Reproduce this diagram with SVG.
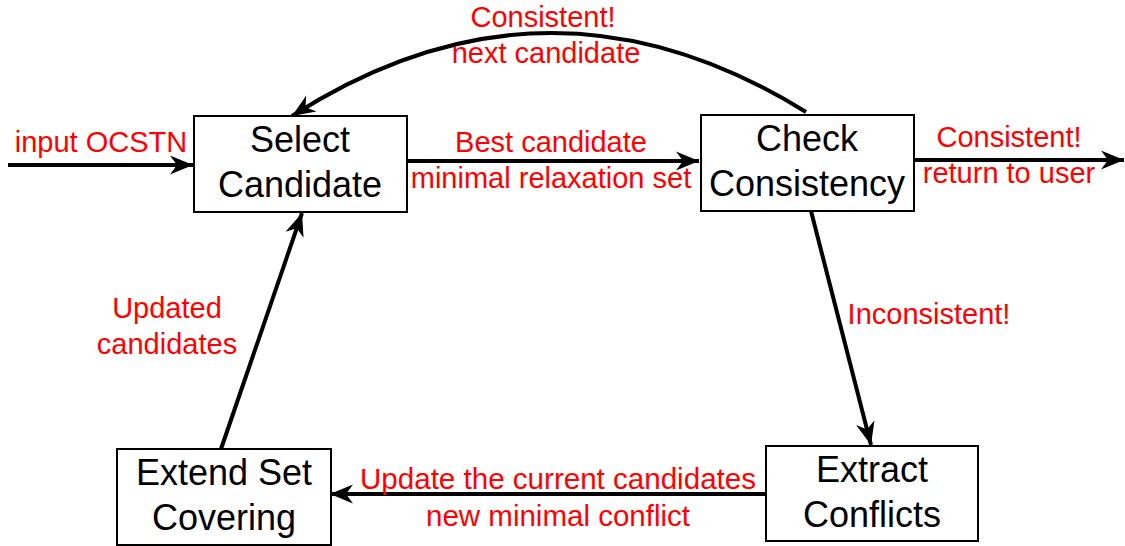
<svg xmlns="http://www.w3.org/2000/svg" width="1125" height="546" viewBox="0 0 1125 546">
  <style>
    .node rect { fill: #ffffff; stroke: #000000; stroke-width: 2; }
    .node text { font-family: "Liberation Sans", Arial, sans-serif; font-size: 36px; fill: #000000; text-anchor: middle; }
    .edge { fill: none; stroke: #000000; stroke-width: 4; marker-end: url(#arrow); }
    .lbl { font-family: "Liberation Sans", Arial, sans-serif; font-size: 29px; fill: #ff0000; text-anchor: middle; }
  </style>
  <defs>
    <marker id="arrow" markerUnits="userSpaceOnUse" markerWidth="28" markerHeight="24" viewBox="-26 -12 28 24" refX="0" refY="0" orient="auto">
      <path d="M0,0 L-23,-9.5 L-16,0 L-23,9.5 Z" fill="#000000"/>
    </marker>
  </defs>
  <rect width="1125" height="546" fill="#ffffff"/>

  <!-- connectors -->
  <g id="connectors">
    <line class="edge" x1="8" y1="165" x2="193" y2="165"/>
    <line class="edge" x1="407" y1="161" x2="699" y2="161"/>
    <line class="edge" x1="914" y1="160" x2="1124" y2="160"/>
    <path class="edge" d="M806,112 Q548,-48 292,116"/>
    <line class="edge" x1="811" y1="211" x2="871" y2="445"/>
    <line class="edge" x1="766" y1="494" x2="330" y2="494"/>
    <line class="edge" x1="221" y1="449" x2="302" y2="213"/>
  </g>

  <!-- connector labels -->
  <g id="labels">
    <text class="lbl" x="101" y="152" font-size="28">input OCSTN</text>
    <text class="lbl" x="543" y="27" font-size="28">Consistent!</text>
    <text class="lbl" x="546" y="63" font-size="28">next candidate</text>
    <text class="lbl" x="551" y="152" font-size="28">Best candidate</text>
    <text class="lbl" x="551" y="188" font-size="28">minimal relaxation set</text>
    <text class="lbl" x="1009" y="147">Consistent!</text>
    <text class="lbl" x="1009" y="183">return to user</text>
    <text class="lbl" x="929" y="324">Inconsistent!</text>
    <text class="lbl" x="167" y="318">Updated</text>
    <text class="lbl" x="167" y="354">candidates</text>
    <text class="lbl" x="558" y="489" font-size="30" textLength="396" lengthAdjust="spacingAndGlyphs">Update the current candidates</text>
    <text class="lbl" x="558" y="526" font-size="30" textLength="264" lengthAdjust="spacingAndGlyphs">new minimal conflict</text>
  </g>

  <!-- nodes -->
  <g id="select-candidate" class="node">
    <rect x="194" y="116" width="213" height="96"/>
    <text x="300" y="152">Select</text>
    <text x="300" y="197">Candidate</text>
  </g>
  <g id="check-consistency" class="node">
    <rect x="701" y="115" width="213" height="96"/>
    <text x="807" y="151">Check</text>
    <text x="807" y="196">Consistency</text>
  </g>
  <g id="extend-set-covering" class="node">
    <rect x="117" y="449" width="214" height="96"/>
    <text x="224" y="485">Extend Set</text>
    <text x="224" y="530">Covering</text>
  </g>
  <g id="extract-conflicts" class="node">
    <rect x="766" y="446" width="212" height="95"/>
    <text x="872" y="482">Extract</text>
    <text x="872" y="527">Conflicts</text>
  </g>
</svg>
